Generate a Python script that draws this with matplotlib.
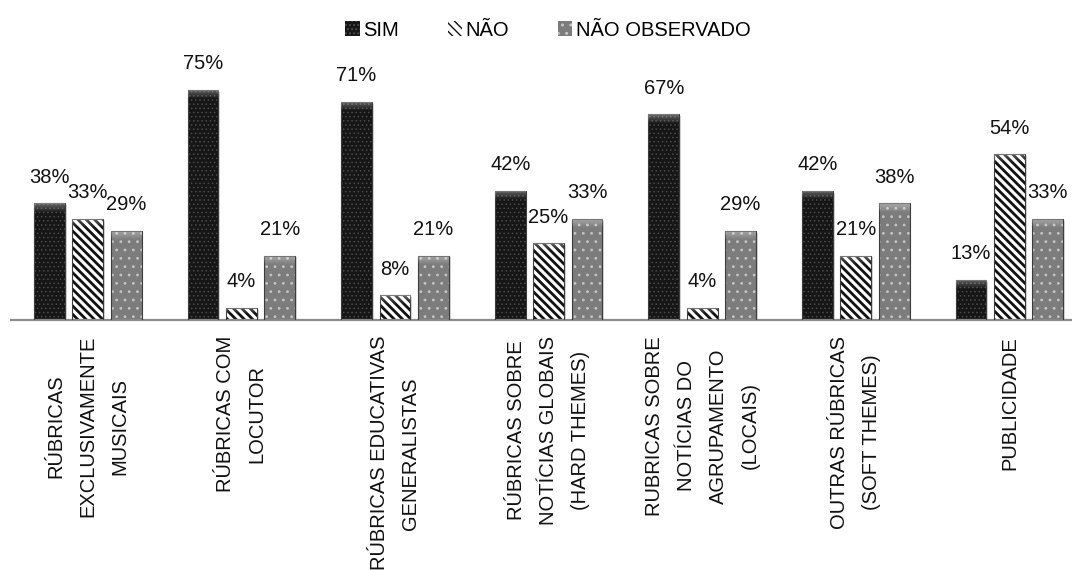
import numpy as np
import matplotlib
matplotlib.use("Agg")
import matplotlib.pyplot as plt
from matplotlib import font_manager
from matplotlib.transforms import blended_transform_factory

categories = [
    "RÚBRICAS\nEXCLUSIVAMENTE\nMUSICAIS",
    "RÚBRICAS COM\nLOCUTOR",
    "RÚBRICAS EDUCATIVAS\nGENERALISTAS",
    "RÚBRICAS SOBRE\nNOTÍCIAS GLOBAIS\n(HARD THEMES)",
    "RUBRICAS SOBRE\nNOTÍCIAS DO\nAGRUPAMENTO\n(LOCAIS)",
    "OUTRAS RÚBRICAS\n(SOFT THEMES)",
    "PUBLICIDADE",
]
series_names = ["SIM", "NÃO", "NÃO OBSERVADO"]
sim = [38, 75, 71, 42, 67, 42, 13]
nao = [33, 4, 8, 25, 4, 21, 54]
nao_obs = [29, 21, 21, 33, 29, 38, 33]

installed = {f.name for f in font_manager.fontManager.ttflist}
narrow = "Liberation Sans Narrow" if "Liberation Sans Narrow" in installed else "Liberation Sans"
plt.rcParams["font.family"] = ["Liberation Sans", "DejaVu Sans"]

W, H = 1072, 570
fig = plt.figure(figsize=(W / 100, H / 100), dpi=100)
fig.patch.set_facecolor("white")

px_per_unit = 3.07
ymax = 80
left_px, base_px, group_px = 11, 320, 153.6
ax = fig.add_axes([left_px / W, (H - base_px) / H,
                   group_px * len(categories) / W, ymax * px_per_unit / H])
for s in ("top", "right", "left"):
    ax.spines[s].set_visible(False)
ax.spines["bottom"].set_color("#8c8c8c")
ax.spines["bottom"].set_linewidth(1.6)
ax.set_yticks([])
ax.set_xticks([])
ax.patch.set_alpha(0)

x = np.arange(len(categories))
width = 0.2
offsets = [-0.25, 0.0, 0.25]
styles = [
    dict(color="#161616", edgecolor="#4a4a4a", hatch="....", hlw=0.6),
    dict(color="white", edgecolor="#111111", hatch="\\\\\\\\", hlw=2.0),
    dict(color="#7c7c7c", edgecolor="#c4c4c4", hatch="..", hlw=0.8),
]
all_values = [sim, nao, nao_obs]

handles = []
for vals, off, st, name in zip(all_values, offsets, styles, series_names):
    with plt.rc_context({"hatch.linewidth": st["hlw"], "hatch.color": st["edgecolor"]}):
        bars = ax.bar(x + off, vals, width, color=st["color"], hatch=st["hatch"],
                      edgecolor=st["edgecolor"], linewidth=0, label=name, zorder=2)
    for b in bars:
        if hasattr(b, "set_hatch_linewidth"):
            b.set_hatch_linewidth(st["hlw"])
    handles.append(bars)
    # thin outline, faint side shadow and soft top highlight on each bar
    for b, v in zip(bars, vals):
        x0 = b.get_x()
        ax.add_patch(plt.Rectangle((x0, 0), width, v, fill=False,
                                   edgecolor="#3c3c3c", linewidth=0.8, zorder=3))
        ax.add_patch(plt.Rectangle((x0 + width, -0.6), 0.012, v, color="#d8d8d8",
                                   linewidth=0, zorder=1))
        hl = min(3.0, v * 0.5)
        grad = np.zeros((20, 2, 4))
        grad[..., :3] = 1.0
        grad[..., 3] = np.linspace(0.35, 0.0, 20)[:, None]
        ax.imshow(grad, extent=(x0, x0 + width, v - hl, v), aspect="auto",
                  zorder=3.5, interpolation="bilinear", origin="upper")
        ax.annotate(f"{v}%", (x0 + width / 2, v), xytext=(0, 12),
                    textcoords="offset points", ha="center", va="bottom",
                    fontsize=14.5, family=[narrow, "DejaVu Sans"], color="#111111")

ax.set_xlim(-0.5, len(categories) - 0.5)
ax.set_ylim(0, ymax)

trans = blended_transform_factory(ax.transData, ax.transAxes)
for xi, lab in zip(x, categories):
    ax.text(xi, -16 / (ymax * px_per_unit), lab, transform=trans, rotation=90,
            ha="center", va="top", multialignment="center", fontsize=14.5,
            linespacing=1.85, color="#111111")

fig.legend([h[0] for h in handles], series_names, loc="center",
           bbox_to_anchor=(548 / W, 1 - 30 / H), ncol=3, frameon=False,
           handlelength=0.7, handleheight=0.7,
           handletextpad=0.2, columnspacing=2.4,
           prop={"family": [narrow, "DejaVu Sans"], "size": 14.5})

fig.savefig("out.png", dpi=100)
